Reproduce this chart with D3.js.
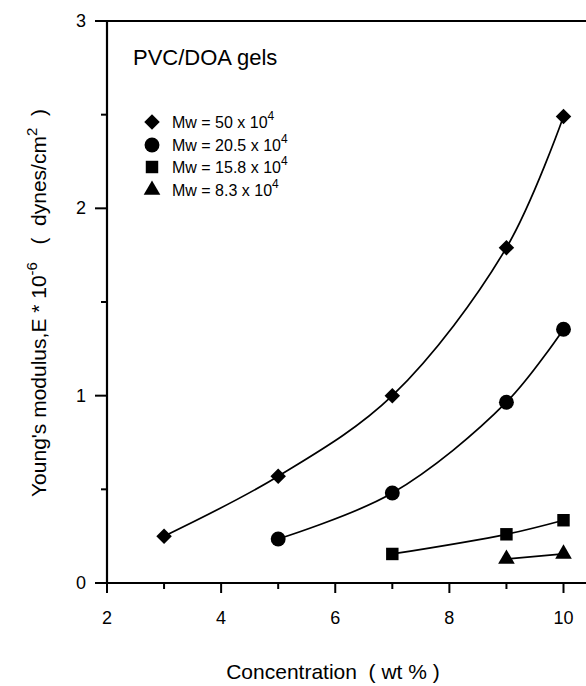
<!DOCTYPE html>
<html><head><meta charset="utf-8">
<script src="https://cdn.jsdelivr.net/npm/d3@7"></script>
<style>body{margin:0;background:#fff}svg{display:block}text{font-family:Arial,"Liberation Sans",sans-serif;fill:#000}</style>
</head><body><svg id="c" width="586" height="686"></svg>
<script>
const xTicks = [2, 4, 6, 8, 10];
const yTicks = [0, 1, 2, 3];
const seriesNames = ["Mw = 50 x 10", "Mw = 20.5 x 10", "Mw = 15.8 x 10", "Mw = 8.3 x 10"];
const seriesShapes = ["diamond", "circle", "square", "triangle"];
const conc50 = [3, 5, 7, 9, 10];
const mod50 = [0.25, 0.57, 1.0, 1.79, 2.49];
const conc205 = [5, 7, 9, 10];
const mod205 = [0.235, 0.48, 0.965, 1.355];
const conc158 = [7, 9, 10];
const mod158 = [0.155, 0.26, 0.335];
const conc83 = [9, 10];
const mod83 = [0.128, 0.155];

const svg = d3.select("#c");
const x = d3.scaleLinear().domain([2, 10]).range([107, 563.5]);
const y = d3.scaleLinear().domain([0, 3]).range([583, 21]);

// frame top line
svg.append("line").attr("x1", x(2)).attr("x2", 586).attr("y1", y(3)).attr("y2", y(3))
  .attr("stroke", "#000").attr("stroke-width", 2.2);

// x axis
const xAxis = svg.append("g").attr("transform", `translate(0,${y(0)})`);
xAxis.append("line").attr("x1", x(2)).attr("x2", 586).attr("stroke", "#000").attr("stroke-width", 2.2);
xAxis.selectAll(".minor").data(d3.range(3, 10, 2)).join("line")
  .attr("x1", d => x(d)).attr("x2", d => x(d)).attr("y1", 0).attr("y2", 6)
  .attr("stroke", "#000").attr("stroke-width", 2);
xAxis.selectAll(".major").data(xTicks).join("line")
  .attr("x1", d => x(d)).attr("x2", d => x(d)).attr("y1", 0).attr("y2", 10)
  .attr("stroke", "#000").attr("stroke-width", 2);
xAxis.selectAll("text").data(xTicks).join("text")
  .attr("x", d => x(d)).attr("y", 41).attr("text-anchor", "middle")
  .attr("font-size", 18).text(d => d);

// y axis
const yAxis = svg.append("g").attr("transform", `translate(${x(2)},0)`);
yAxis.append("line").attr("y1", y(0) + 1).attr("y2", y(3) - 1).attr("stroke", "#000").attr("stroke-width", 2.2);
yAxis.selectAll(".minor").data([0.5, 1.5, 2.5]).join("line")
  .attr("y1", d => y(d)).attr("y2", d => y(d)).attr("x1", 0).attr("x2", -6)
  .attr("stroke", "#000").attr("stroke-width", 2);
yAxis.selectAll(".major").data(yTicks).join("line")
  .attr("y1", d => y(d)).attr("y2", d => y(d)).attr("x1", 0).attr("x2", -12)
  .attr("stroke", "#000").attr("stroke-width", 2);
yAxis.selectAll("text").data(yTicks).join("text")
  .attr("x", -21).attr("y", d => y(d) + 6).attr("text-anchor", "end")
  .attr("font-size", 18).text(d => d);

// axis titles
svg.append("text").attr("x", 333).attr("y", 679).attr("text-anchor", "middle")
  .attr("font-size", 21).attr("xml:space", "preserve").text("Concentration  ( wt % )");
const yt = svg.append("text").attr("transform", "translate(46,303) rotate(-90)")
  .attr("text-anchor", "middle").attr("font-size", 21).attr("xml:space", "preserve");
yt.append("tspan").text("Young's modulus,E * 10");
yt.append("tspan").attr("dy", -9).attr("font-size", 15).text("-6");
yt.append("tspan").attr("dy", 9).text("   (  dynes/cm");
yt.append("tspan").attr("dy", -9).attr("font-size", 15).text("2");
yt.append("tspan").attr("dy", 9).text("  )");

// title
svg.append("text").attr("x", 133).attr("y", 65).attr("font-size", 22).text("PVC/DOA gels");

// markers
function shapePath(s) {
  const sym = { diamond: d3.symbolSquare, circle: d3.symbolCircle, square: d3.symbolSquare, triangle: d3.symbolTriangle }[s];
  const size = { diamond: 120, circle: 175, square: 155, triangle: 120 }[s];
  return d3.symbol().type(sym).size(size)();
}
function shapeRot(s) { return s === "diamond" ? " rotate(45)" : ""; }

const seriesData = [
  [conc50, mod50], [conc205, mod205], [conc158, mod158], [conc83, mod83]
];
const line = d3.line().x(d => x(d[0])).y(d => y(d[1])).curve(d3.curveCatmullRom.alpha(0.5));
seriesData.forEach(([cx, cy], i) => {
  const pts = cx.map((c, j) => [c, cy[j]]);
  svg.append("path").attr("d", line(pts)).attr("fill", "none").attr("stroke", "#000").attr("stroke-width", 1.7);
  svg.selectAll(null).data(pts).join("path")
    .attr("d", shapePath(seriesShapes[i]))
    .attr("transform", d => `translate(${x(d[0])},${y(d[1])})` + shapeRot(seriesShapes[i]))
    .attr("fill", "#000");
});

// legend
const legY = [122, 145, 167, 190];
seriesNames.forEach((n, i) => {
  svg.append("path").attr("d", shapePath(seriesShapes[i]))
    .attr("transform", `translate(152,${legY[i]})` + shapeRot(seriesShapes[i])).attr("fill", "#000");
  const t = svg.append("text").attr("x", 172).attr("y", legY[i] + 6).attr("font-size", 16);
  t.append("tspan").text(n);
  t.append("tspan").attr("dy", -8).attr("font-size", 12).text("4");
});
</script></body></html>
